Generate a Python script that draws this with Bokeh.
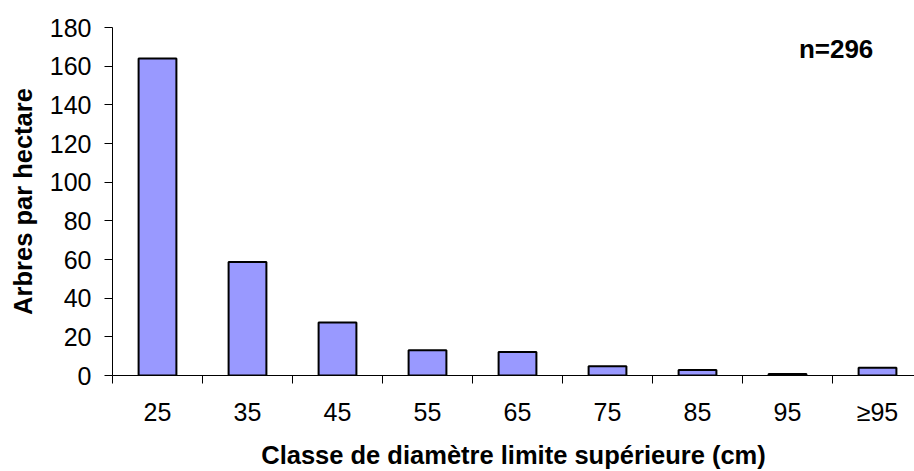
from bokeh.plotting import figure
from bokeh.models import Range1d, FixedTicker, Label, ColumnDataSource
from bokeh.embed import file_html
from bokeh.resources import INLINE

categories = ["25", "35", "45", "55", "65", "75", "85", "95", "≥95"]
trees_per_ha = [164, 58.7, 27.4, 13.1, 12.1, 4.8, 2.8, 0.8, 4.0]
y_ticks = [0, 20, 40, 60, 80, 100, 120, 140, 160, 180]
n_label = "n=296"
x_title = "Classe de diamètre limite supérieure (cm)"
y_title = "Arbres par hectare"

pos = [i + 0.5 for i in range(len(categories))]
src = ColumnDataSource(dict(x=pos, top=trees_per_ha, cat=categories))

p = figure(width=914, height=471, output_backend="svg", toolbar_location=None,
           x_range=Range1d(0, 8.911), y_range=Range1d(0, 180),
           min_border_left=112, min_border_right=0, min_border_top=27, min_border_bottom=96)
p.outline_line_color = None
p.xgrid.grid_line_color = None
p.ygrid.grid_line_color = None

p.vbar(x="x", top="top", bottom=0, width=0.42, source=src,
       fill_color="#9999FF", line_color="black", line_width=2)

FONT = "Liberation Sans"
# x axis
p.xaxis.ticker = FixedTicker(ticks=pos, minor_ticks=list(range(len(categories) + 1)))
p.xaxis.major_label_overrides = {x: c for x, c in zip(pos, categories)}
p.xaxis.major_tick_line_color = None
p.xaxis.minor_tick_line_color = "black"
p.xaxis.minor_tick_out = 8
p.xaxis.minor_tick_in = 0
p.xaxis.major_label_standoff = 14
p.xaxis.axis_label = x_title
p.xaxis.axis_label_standoff = 12
p.xaxis.axis_label_text_font_size = "25.5px"
# y axis
p.yaxis.ticker = FixedTicker(ticks=y_ticks)
p.yaxis.minor_tick_line_color = None
p.yaxis.major_tick_out = 8
p.yaxis.major_tick_in = 0
p.yaxis.major_label_standoff = 13
p.yaxis.axis_label = y_title
p.yaxis.axis_label_standoff = 10
p.yaxis.axis_label_text_font_size = "25.5px"

for ax in (p.xaxis, p.yaxis):
    ax.axis_line_color = "black"
    ax.axis_line_width = 1
    ax.major_label_text_font = FONT
    ax.major_label_text_font_size = "25px"
    ax.major_label_text_color = "black"
    ax.axis_label_text_font = FONT
    ax.axis_label_text_font_style = "bold"
    ax.axis_label_text_color = "black"

p.add_layout(Label(x=8.04, y=169, text=n_label, text_align="center",
                   text_baseline="alphabetic", text_font=FONT,
                   text_font_size="26px", text_font_style="bold", text_color="black"))

open("out.html", "w").write(file_html(p, INLINE))
